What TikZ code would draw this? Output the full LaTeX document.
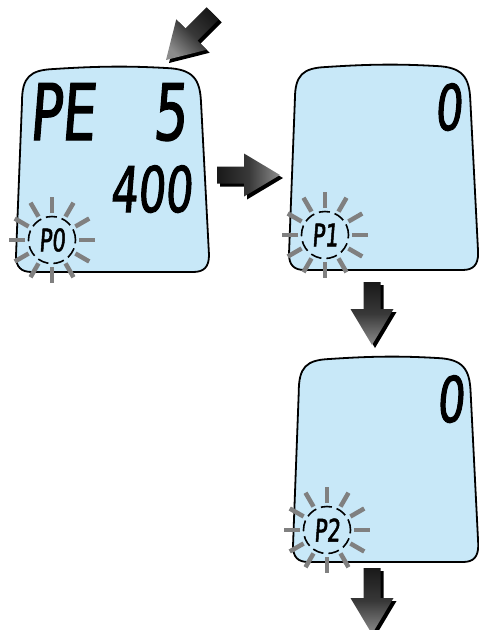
\documentclass[tikz,border=0pt]{standalone}
\usepackage{fontspec}
\usetikzlibrary{positioning}
\newfontfamily\lcdfont[FakeSlant=0.08,FakeStretch=0.68,FakeBold=1.6]{DejaVu Sans}
\definecolor{lcdblue}{RGB}{200,232,248}
\definecolor{raygray}{RGB}{128,128,128}
\tikzset{arrowshade/.style={left color=black!90, right color=black!45, middle color=black!78}}
\newcommand{\blockarrow}[4]{%
    \fill[black, shift={#1}, xshift=3pt, yshift=-3pt, rotate=#2] (0,0) -- (-36,21.5) -- (-36,8.5) -- ({-36-#3},8.5) -- ({-36-#3},-8.5) -- (-36,-8.5) -- (-36,-21.5) -- cycle;
    \shade[arrowshade, shading angle=#4, shift={#1}, rotate=#2] (0,0) -- (-36,21.5) -- (-36,8.5) -- ({-36-#3},8.5) -- ({-36-#3},-8.5) -- (-36,-8.5) -- (-36,-21.5) -- cycle;
}
\newcommand{\blinkmark}[3]{%
    \foreach \a in {0,30,...,330} {
        \draw[blinkray] #2 ++(\a:27) -- ++(\a:16);
    }
    \node[blinkring, lcdsmall] (#1) at #2 {#3};
}

\begin{document}
\begin{tikzpicture}[
        x=1pt, y=-1pt,
        lcdbig/.style={font=\lcdfont\fontsize{78}{78}\selectfont, inner sep=0pt},
        lcdmid/.style={font=\lcdfont\fontsize{63}{63}\selectfont, inner sep=0pt},
        lcdsmall/.style={font=\lcdfont\fontsize{31}{31}\selectfont, inner sep=0pt},
        blinkring/.style={shape=circle, draw=black, line width=1.6pt, dash pattern=on 11pt off 5pt, minimum size=47pt},
        blinkray/.style={draw=raygray, line width=4.5pt},
        pics/lcdpanel/.style={code={
            \draw[fill=lcdblue, line width=1.8pt, line join=round]
                (6,35) .. controls (6,10) and (14,3) .. (38,2)
                .. controls (84,-1) and (114,-1) .. (150,1)
                .. controls (177,2) and (184,12) .. (185,35)
                -- (193,188)
                .. controls (193,200) and (188,205) .. (177,205)
                -- (16,205)
                .. controls (5,205) and (0,200) .. (0,189)
                -- cycle;
        }}
    ]
        \useasboundingbox (0,0) rectangle (479,630);
        % Panels
        \pic (p0) at (16,67) {lcdpanel};
        \pic[xscale=0.98] (p1) at (289,65) {lcdpanel};
        \pic[xscale=0.96] (p2) at (293,357) {lcdpanel};
        % Readings
        \node[lcdbig, anchor=base west] (code) at (29,140) {PE\hspace{58pt}5};
        \node[lcdmid, anchor=base east] (value) at (192,212) {400};
        \node[lcdmid, anchor=base east] (zeroa) at (462,130) {0};
        \node[lcdmid, anchor=base east] (zerob) at (464,422) {0};
        % Blinking marks
        \blinkmark{mark0}{(52,240)}{P0}
        \blinkmark{mark1}{(325,235)}{P1}
        \blinkmark{mark2}{(327,530)}{P2}
        % Arrows
        \blockarrow{(166,60)}{225}{30}{315}
        \blockarrow{(280,175)}{0}{27}{90}
        \blockarrow{(372,345)}{270}{27}{0}
        \blockarrow{(372,634)}{270}{30}{0}
    \end{tikzpicture}
\end{document}
